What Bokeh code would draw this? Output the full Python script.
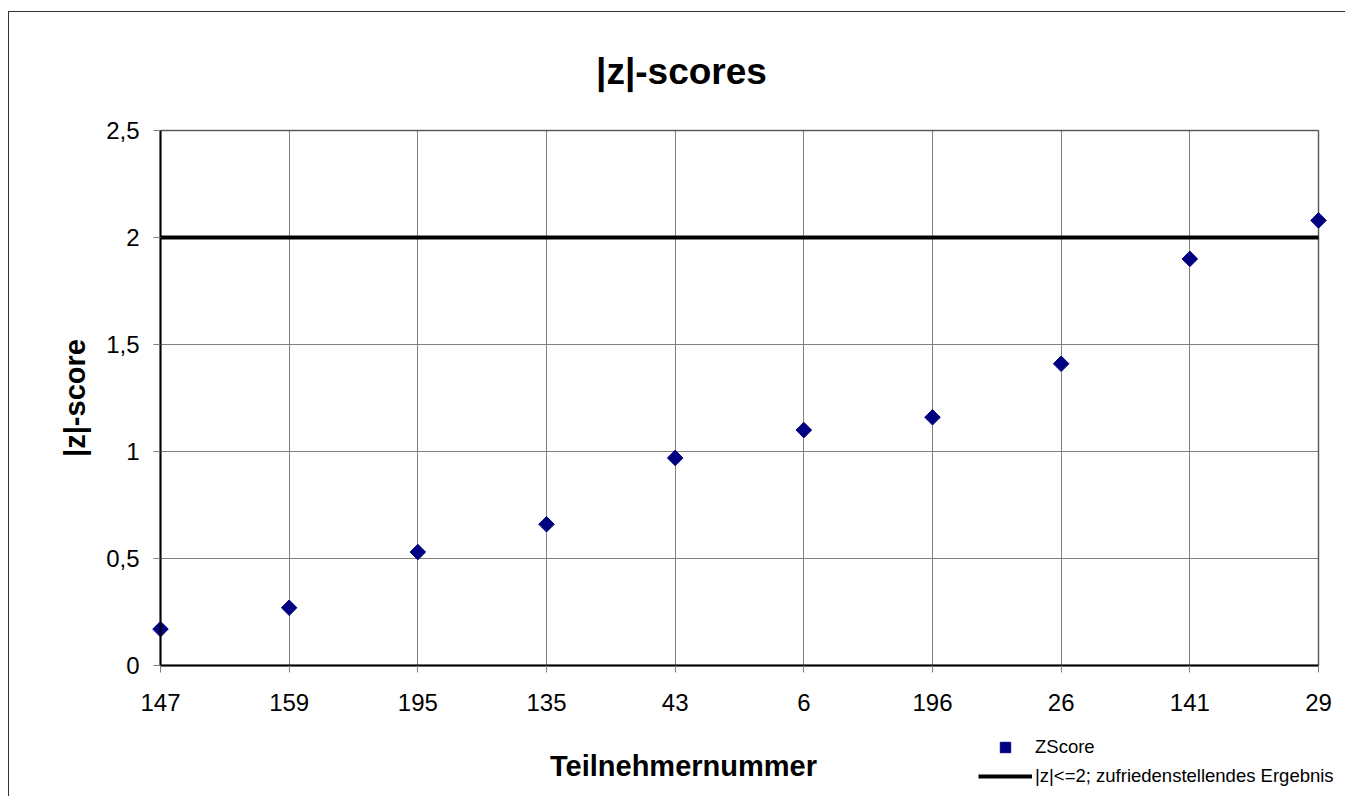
import math
from bokeh.plotting import figure
from bokeh.models import (Range1d, FixedTicker, Legend, LegendItem, Label,
                          BoxAnnotation)
from bokeh.embed import file_html
from bokeh.resources import INLINE

# ---- data ----
participants = ["147", "159", "195", "135", "43", "6", "196", "26", "141", "29"]
z_scores = [0.17, 0.27, 0.53, 0.66, 0.97, 1.10, 1.16, 1.41, 1.90, 2.08]
limit_values = [2.0, 2.0, 2.0, 2.0, 2.0, 2.0, 2.0, 2.0, 2.0, 2.0]
y_ticks = [0, 0.5, 1, 1.5, 2, 2.5]
y_tick_labels = ["0", "0,5", "1", "1,5", "2", "2,5"]

title_text = "|z|-scores"
x_label = "Teilnehmernummer"
y_label = "|z|-score"
series_name = "ZScore"
limit_name = "|z|<=2; zufriedenstellendes Ergebnis"

FONT = "Liberation Sans"

# ---- layout (pixels) ----
W, H = 1345, 796
PLOT_LEFT, PLOT_RIGHT, PLOT_TOP, PLOT_BOTTOM = 160, 1318, 130, 665

xs = list(range(len(participants)))
x_min, x_max = xs[0], xs[-1]
y_min, y_max = y_ticks[0], y_ticks[-1]
SX = (PLOT_RIGHT - PLOT_LEFT) / (x_max - x_min)
SY = (PLOT_BOTTOM - PLOT_TOP) / (y_max - y_min)


def px_x(px):
    return x_min + (px - PLOT_LEFT) / SX


def px_y(py):
    return y_min + (PLOT_BOTTOM - py) / SY


p = figure(width=W, height=H, output_backend="svg", toolbar_location=None,
           x_range=Range1d(px_x(0), px_x(W)), y_range=Range1d(px_y(H), px_y(0)),
           min_border=0)
# outer chart-area border (only its top and left edges are visible)
p.styles = {
    "background-image": "linear-gradient(#333333, #333333), linear-gradient(#333333, #333333)",
    "background-size": "100% 1px, 1px 100%",
    "background-position": "9px 11px, 8px 11px",
    "background-repeat": "no-repeat",
}
p.border_fill_color = None
p.background_fill_color = None
p.outline_line_color = None

# grids limited to the plot area
p.xgrid.ticker = FixedTicker(ticks=xs)
p.ygrid.ticker = FixedTicker(ticks=y_ticks)
grid_ok = True
try:
    p.xgrid.bounds = (x_min, x_max)
    p.xgrid.cross_bounds = (y_min, y_max)
    p.ygrid.bounds = (y_min, y_max)
    p.ygrid.cross_bounds = (x_min, x_max)
except Exception:
    grid_ok = False
for g in (p.xgrid, p.ygrid):
    g.grid_line_color = "#808080"
    g.grid_line_width = 1
if not grid_ok:
    p.xgrid.visible = False
    p.ygrid.visible = False
    n = len(xs)
    p.segment(x0=xs, y0=[y_min] * n, x1=xs, y1=[y_max] * n,
              line_color="#808080", line_width=1, level="underlay")
    m = len(y_ticks)
    p.segment(x0=[x_min] * m, y0=y_ticks, x1=[x_max] * m, y1=y_ticks,
              line_color="#808080", line_width=1, level="underlay")

# plot-area frame
p.add_layout(BoxAnnotation(left=x_min, right=x_max, bottom=y_min, top=y_max,
                           fill_alpha=0, line_color="black", line_width=2,
                           level="underlay"))

# axes drawn at the plot-area edges
p.xaxis.fixed_location = y_min
p.xaxis.bounds = (x_min, x_max)
p.yaxis.fixed_location = x_min
p.yaxis.bounds = (y_min, y_max)
p.xaxis.ticker = FixedTicker(ticks=xs)
p.xaxis.major_label_overrides = {i: c for i, c in zip(xs, participants)}
p.yaxis.ticker = FixedTicker(ticks=y_ticks)
p.yaxis.major_label_overrides = {t: l for t, l in zip(y_ticks, y_tick_labels)}
for ax in (p.xaxis, p.yaxis):
    ax.axis_line_color = "black"
    ax.axis_line_width = 2
    ax.major_tick_line_color = "#808080"
    ax.major_tick_out = 7
    ax.major_tick_in = 0
    ax.minor_tick_out = 0
    ax.minor_tick_in = 0
    ax.major_label_text_font = FONT
    ax.major_label_text_font_size = "24px"
    ax.major_label_text_color = "black"
p.xaxis.major_label_standoff = 21
p.yaxis.major_label_standoff = 14

# series
r_line = p.line(xs, limit_values, line_color="black", line_width=4)
r_pts = p.scatter(xs, z_scores, marker="square", angle=math.pi / 4, size=11,
                  fill_color="#000080", line_color="#000080")

# texts
p.add_layout(Label(x=px_x(681), y=px_y(71), text=title_text, text_align="center",
                   text_baseline="alphabetic", text_font=FONT, text_font_size="37px",
                   text_font_style="bold", text_color="black"))
p.add_layout(Label(x=px_x(683), y=px_y(765), text=x_label, text_align="center",
                   text_baseline="alphabetic", text_font=FONT, text_font_size="29px",
                   text_font_style="bold", text_color="black"))
p.add_layout(Label(x=px_x(74), y=px_y((PLOT_TOP + PLOT_BOTTOM) / 2), text=y_label,
                   angle=math.pi / 2, text_align="center", text_baseline="middle",
                   text_font=FONT, text_font_size="29px", text_font_style="bold",
                   text_color="black"))

legend = Legend(items=[LegendItem(label=series_name, renderers=[r_pts]),
                       LegendItem(label=limit_name, renderers=[r_line])],
                location=(978, H - 789), orientation="vertical",
                border_line_alpha=0, background_fill_alpha=0,
                padding=0, margin=0, spacing=3,
                glyph_width=54, glyph_height=26, label_height=26, label_standoff=3,
                label_text_font=FONT, label_text_font_size="18.5px",
                label_text_color="black")
p.add_layout(legend)

open("out.html", "w").write(file_html(p, INLINE))
